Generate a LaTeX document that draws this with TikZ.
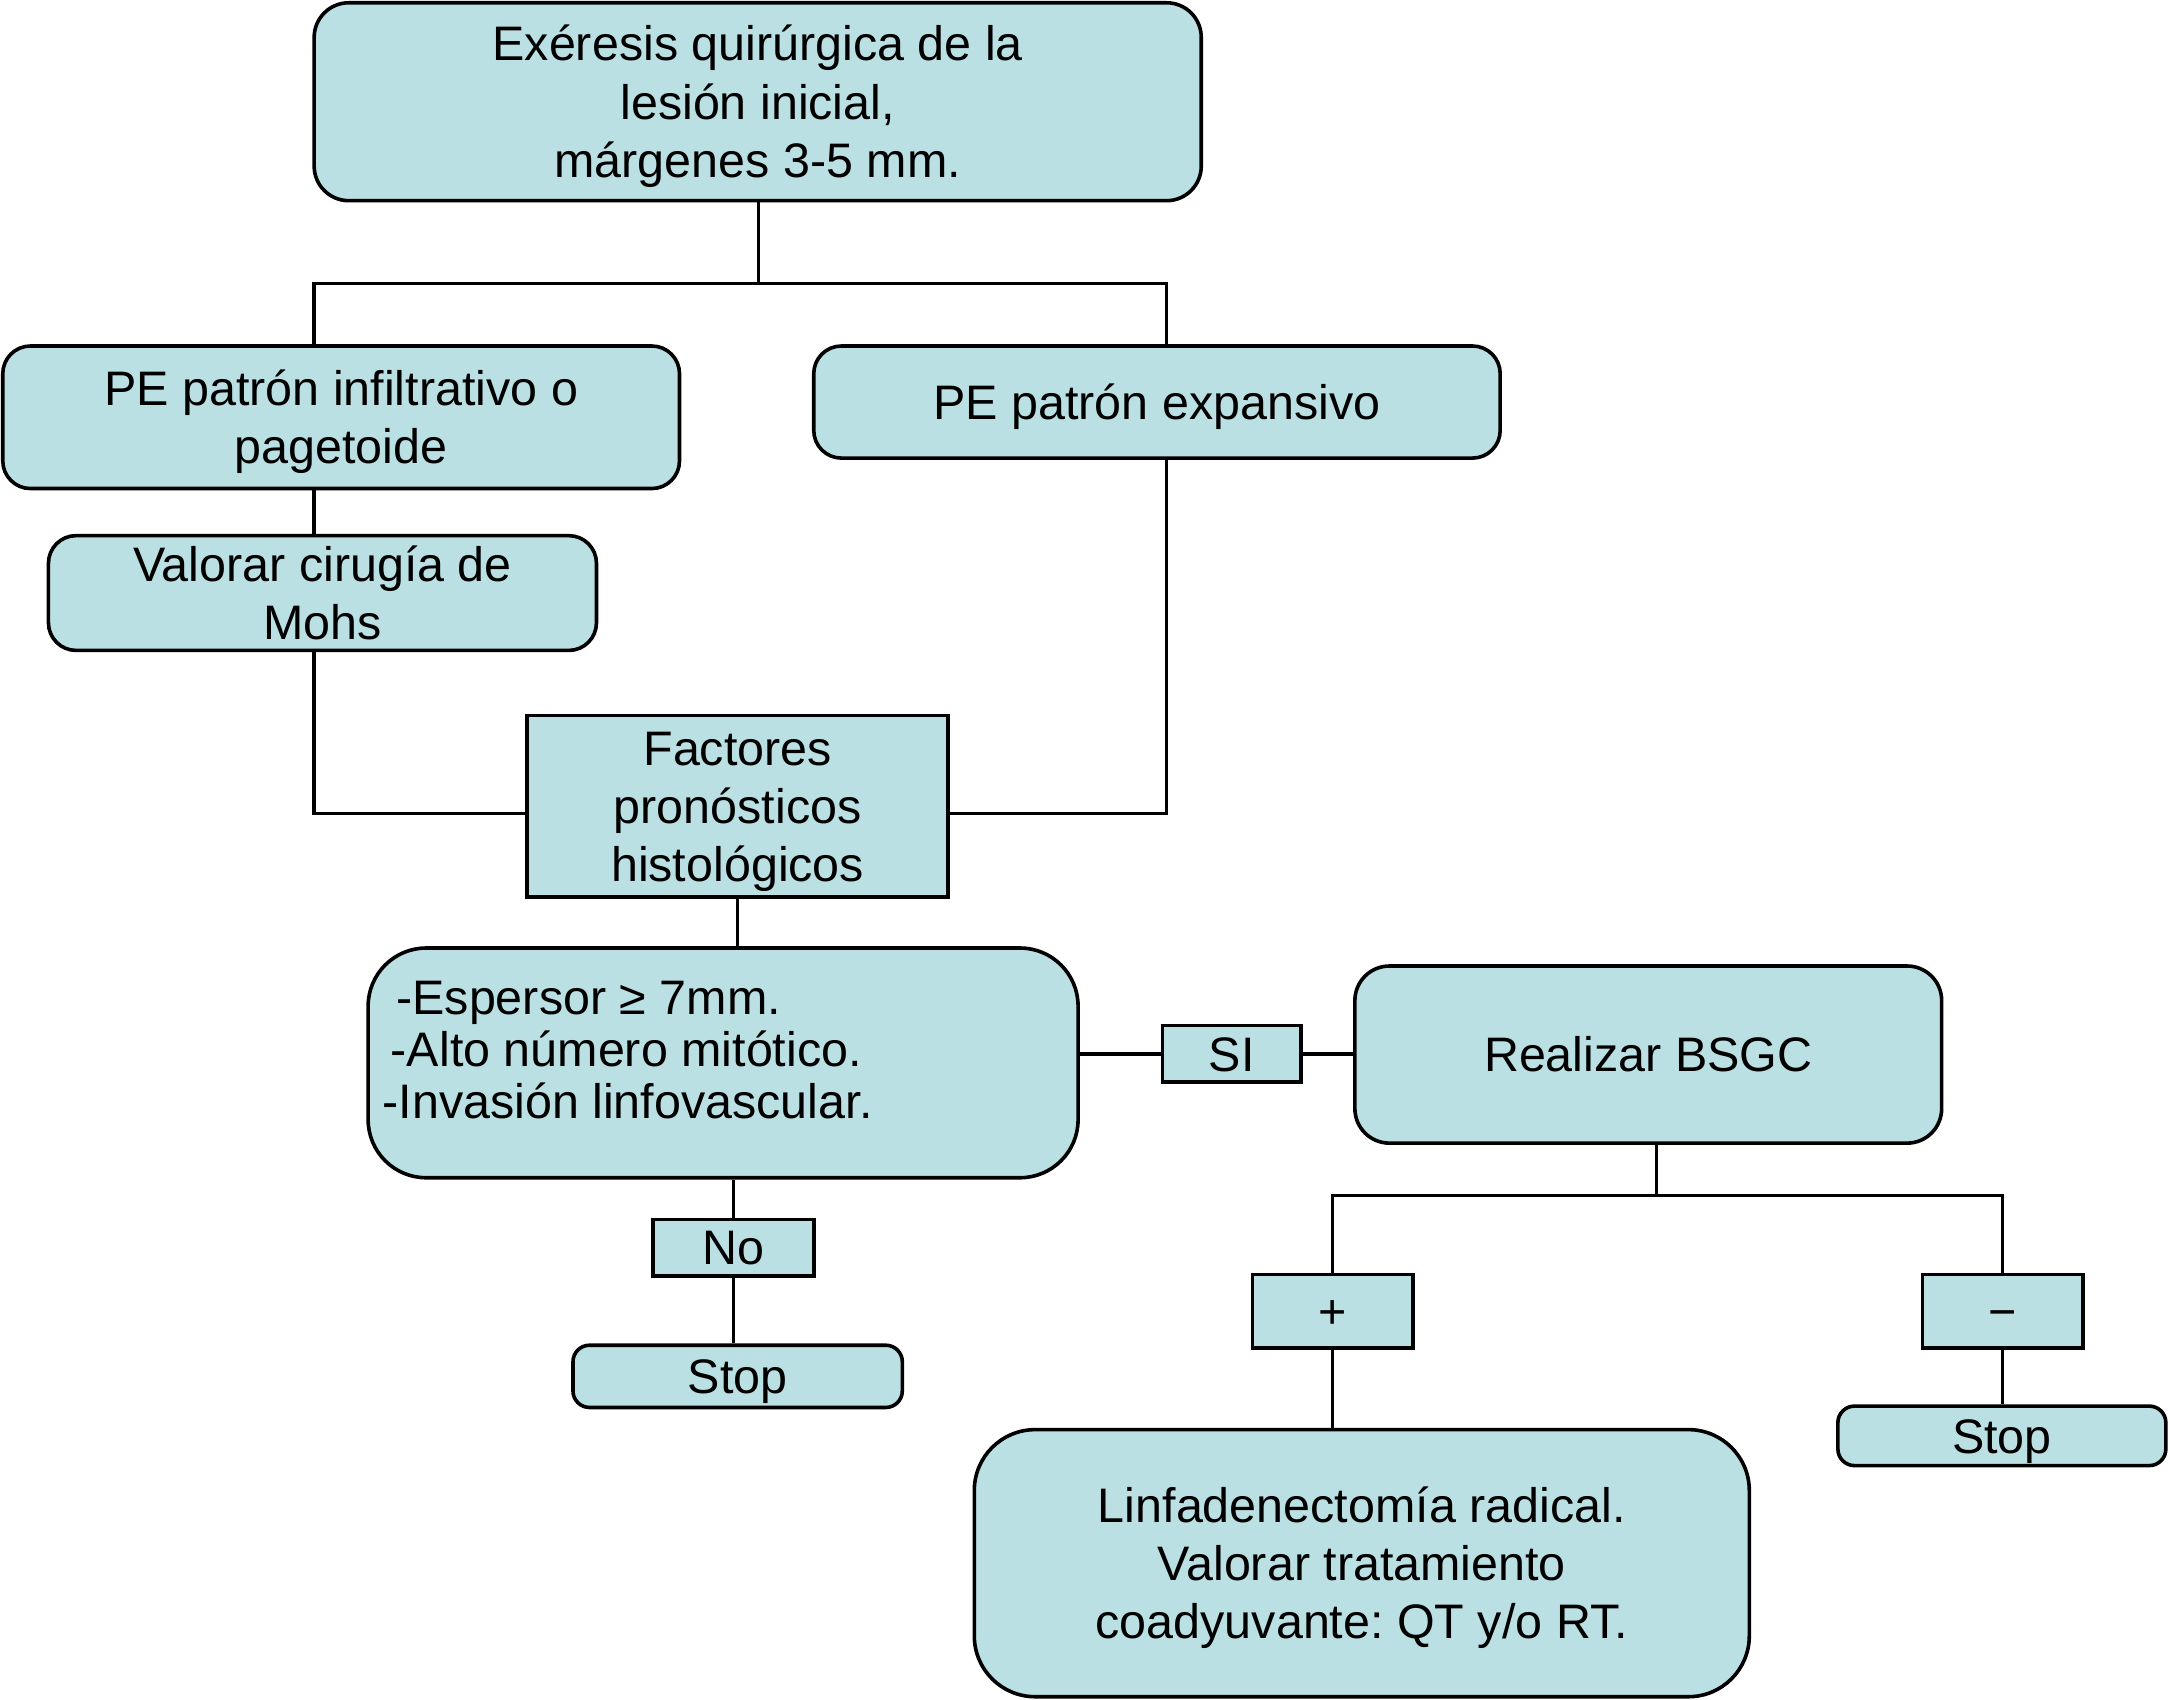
\documentclass[tikz,border=0pt]{standalone}
\usepackage{fontspec}
\setmainfont{Liberation Sans}
\frenchspacing
\definecolor{boxfill}{RGB}{186,224,227}
\newcommand{\mystrut}{\rule[-3.97pt]{0pt}{20.47pt}}
\begin{document}
\begin{tikzpicture}[x=0.5pt,y=-0.5pt,
  every node/.style={font=\fontsize{17.5}{21}\selectfont, inner sep=0pt, align=center},
  rbox/.style={draw=black, line width=1.3pt, fill=boxfill, rounded corners=#1},
  rbox/.default=11pt,
  sbox/.style={draw=black, line width=1.3pt, fill=boxfill},
  conn/.style={draw=black, line width=1.2pt}]
\useasboundingbox (0,0) rectangle (1568,1228);
\fill[white] (0,0) rectangle (1568,1228);

\node[rbox=12.5pt, minimum width=320.5pt, minimum height=71.5pt] (top) at (547.5,73.5)
  {\mystrut Exéresis quirúrgica de la\\lesión inicial,\\márgenes 3-5 mm.\mystrut};
\node[rbox=10pt, minimum width=244.5pt, minimum height=51.5pt] (pe1) at (246.5,301.5)
  {\mystrut PE patrón infiltrativo o\\pagetoide\mystrut};
\node[rbox=10pt, minimum width=248pt, minimum height=40.5pt] (pe2) at (836,290.5)
  {\mystrut PE patrón expansivo};
\node[rbox=10pt, minimum width=198pt, minimum height=40.5pt] (val) at (233,428.5)
  {\mystrut Valorar cirugía de\\Mohs\mystrut};
\node[sbox, minimum width=152pt, minimum height=65.5pt] (fact) at (533,582.5)
  {\mystrut Factores\\pronósticos\\histológicos\mystrut};
\node[rbox=21pt, minimum width=256.5pt, minimum height=83pt] (esp) at (522.5,768) {};
\node[anchor=north west, align=left, font=\fontsize{17.5}{18.75}\selectfont] (esptext) at (276,699.5)
  {\mystrut\hspace*{5pt}-Espersor ≥ 7mm.\\\hspace*{3pt}-Alto número mitótico.\\-Invasión linfovascular.};
\node[sbox, minimum width=50pt, minimum height=18.5pt] (si) at (890,761.5) {\mystrut SI};
\node[rbox=12.5pt, minimum width=212pt, minimum height=64pt] (real) at (1191,762)
  {\mystrut Realizar BSGC};
\node[sbox, minimum width=58pt, minimum height=26.5pt] (plus) at (963,947.5) {\mystrut +};
\node[sbox, minimum width=58pt, minimum height=26.5pt] (minus) at (1447,947.5) {\mystrut −};
\node[rbox=22pt, minimum width=280pt, minimum height=96.5pt] (linfa) at (984,1129.5)
  {\mystrut Linfadenectomía radical.\\Valorar tratamiento\\coadyuvante: QT y/o RT.\mystrut};
\node[rbox=6pt, minimum width=118.5pt, minimum height=21.5pt] (stop2) at (1446.5,1037.5) {\mystrut Stop};
\node[sbox, minimum width=58pt, minimum height=19.5pt] (no) at (530,901.5) {\mystrut No};
\node[rbox=6pt, minimum width=119pt, minimum height=22.5pt] (stop1) at (533,994.5) {\mystrut Stop};

\coordinate (xL) at (227,0);
\coordinate (xR) at (843,0);
\coordinate (bus1) at (548,205);
\coordinate (bus2) at (1197,864);
\coordinate (yF) at (0,588);

\draw[conn] (top.south -| bus1) -- (bus1);
\draw[conn] (pe1.north -| xL) |- (bus1) -| (pe2.north -| xR);
\draw[conn] (pe1.south -| xL) -- (val.north -| xL);
\draw[conn] (val.south -| xL) |- (fact.west |- yF);
\draw[conn] (pe2.south -| xR) |- (fact.east |- yF);
\draw[conn] (fact.south) -- (fact.south |- esp.north);
\draw[conn] (si.west -| esp.east) -- (si.west);
\draw[conn] (si.east) -- (si.east -| real.west);
\draw[conn] (real.south -| bus2) -- (bus2);
\draw[conn] (plus.north) |- (bus2) -| (minus.north);
\draw[conn] (plus.south) -- (plus.south |- linfa.north);
\draw[conn] (minus.south) -- (minus.south |- stop2.north);
\draw[conn] (no.north) -- (no.north |- esp.south);
\draw[conn] (no.south) -- (no.south |- stop1.north);
\end{tikzpicture}
\end{document}
